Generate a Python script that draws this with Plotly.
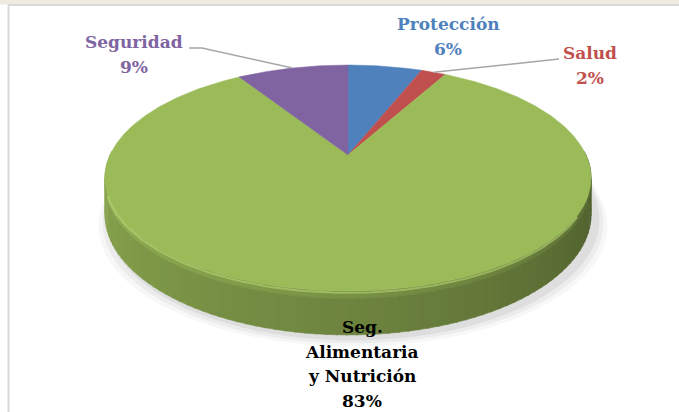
import numpy as np
import plotly.graph_objects as go

# ---- data ----
categories = ["Protección", "Salud", "Seg. Alimentaria y Nutrición", "Seguridad"]
label_lines = [["Protección"], ["Salud"], ["Seg.", "Alimentaria", "y Nutrición"], ["Seguridad"]]
values = [6, 2, 83, 9]
pct_labels = ["6%", "2%", "83%", "9%"]
colors = ["#4F81BD", "#C0504D", "#9BBB59", "#8064A2"]
text_colors = ["#4F81BD", "#C0504D", "#000000", "#8064A2"]

# ---- geometry (style) ----
W, H = 679, 412
CX, CY, SX, SY, K, T0 = 348, 155, 238, 108.3, 0.2035, 35
FONT = "DejaVu Serif"
FS = 17


def proj(theta_deg, drop=0.0):
    th = np.radians(theta_deg)
    u = np.sin(th)
    v = -np.cos(th)
    d = 1 - K * v
    return CX + SX * u / d, CY + SY * v / d + drop / d


def hex_rgb(h):
    h = h.lstrip("#")
    return tuple(int(h[i:i + 2], 16) for i in (0, 2, 4))


def shade(h, f):
    r, g, b = hex_rgb(h)
    return "rgb(%d,%d,%d)" % tuple(max(0, min(255, int(c * f))) for c in (r, g, b))


total = float(sum(values))
bounds = np.concatenate([[0], np.cumsum(values)]) / total * 360.0


def slice_of(theta):
    t = theta % 360
    for i in range(len(values)):
        if bounds[i] <= t < bounds[i + 1]:
            return i
    return len(values) - 1


fig = go.Figure()

# shadow
for grow, op in [(14, 0.04), (9, 0.06), (4, 0.08)]:
    th = np.linspace(90, 270, 120)
    xs, ys = proj(th, T0)
    xs2 = CX + (xs - CX) * (1 + grow / 300.0) + 5
    ys2 = ys + grow * 0.6 + 3
    xt, yt = proj(th[::-1], T0 - 20)
    fig.add_trace(go.Scatter(x=np.concatenate([xs2, xt]), y=np.concatenate([ys2, yt]),
                             fill="toself", mode="none",
                             fillcolor="rgba(60,60,60,%.2f)" % op, hoverinfo="skip", showlegend=False))

# side strips
step = 2.0
for a in np.arange(88, 272, step):
    b = a + step + 0.4
    mid = a + step / 2
    base = colors[slice_of(mid)]
    # shading: dark at right (90), light at left (270)
    s = min(1.0, max(0.0, (mid - 90) / 180.0))
    f = 0.45 + 0.45 * s ** 0.8
    for d0, d1, fb in [(0, 6, 1.10), (6, T0, 1.0)]:
        x1, y1 = proj(np.array([a, b]), d0)
        x2, y2 = proj(np.array([b, a]), d1)
        col = shade(base, f * fb)
        fig.add_trace(go.Scatter(x=np.concatenate([x1, x2]), y=np.concatenate([y1, y2]),
                                 fill="toself", mode="lines", line=dict(color=col, width=0.6),
                                 fillcolor=col, hoverinfo="skip", showlegend=False))

# top face slices
for i in range(len(values)):
    th = np.linspace(bounds[i], bounds[i + 1], max(3, int(bounds[i + 1] - bounds[i]) * 2))
    xs, ys = proj(th)
    fig.add_trace(go.Scatter(x=np.concatenate([[CX], xs, [CX]]), y=np.concatenate([[CY], ys, [CY]]),
                             fill="toself", mode="lines", line=dict(color=colors[i], width=0.5),
                             fillcolor=colors[i], name=categories[i], hoverinfo="skip", showlegend=False))

# rim highlight (front)
th = np.linspace(120, 250, 100)
xs, ys = proj(th, 1.5)
fig.add_trace(go.Scatter(x=xs, y=ys, mode="lines", line=dict(color="rgba(190,220,120,0.55)", width=2),
                         hoverinfo="skip", showlegend=False))

# leader lines (Salud, Seguridad)
mid_angles = [(bounds[i] + bounds[i + 1]) / 2 for i in range(len(values))]
sx_, sy_ = proj(mid_angles[1])
fig.add_trace(go.Scatter(x=[sx_, 553, 559], y=[sy_, 59, 59], mode="lines",
                         line=dict(color="#A6A6A6", width=1.5), hoverinfo="skip", showlegend=False))
gx_, gy_ = proj(mid_angles[3])
fig.add_trace(go.Scatter(x=[gx_, 202, 189], y=[gy_, 48, 48], mode="lines",
                         line=dict(color="#A6A6A6", width=1.5), hoverinfo="skip", showlegend=False))

# labels
label_pos = [(448, 24), (590, 53), (362, 327), (134, 42)]
line_gap = [25, 25, 24.5, 25]
annotations = []
for i in range(len(values)):
    lines = label_lines[i] + [pct_labels[i]]
    x0, y0 = label_pos[i]
    for j, txt in enumerate(lines):
        annotations.append(dict(x=x0, y=y0 + line_gap[i] * j, xref="x", yref="y", text="<b>%s</b>" % txt,
                                showarrow=False, xanchor="center", yanchor="middle",
                                font=dict(family=FONT, size=FS, color=text_colors[i])))

shapes = [
    dict(type="rect", xref="x", yref="y", x0=0, x1=W, y0=0, y1=4.5, fillcolor="#EEECE1",
         line=dict(width=0), layer="below"),
    dict(type="line", xref="x", yref="y", x0=8, x1=W, y0=5, y1=5, line=dict(color="#D9D9D9", width=2),
         layer="below"),
    dict(type="line", xref="x", yref="y", x0=8.5, x1=8.5, y0=5, y1=H, line=dict(color="#D9D9D9", width=2),
         layer="below"),
]

fig.update_layout(
    width=W, height=H, margin=dict(l=0, r=0, t=0, b=0),
    paper_bgcolor="white", plot_bgcolor="white",
    xaxis=dict(range=[0, W], visible=False, fixedrange=True),
    yaxis=dict(range=[H, 0], visible=False, fixedrange=True),
    annotations=annotations, shapes=shapes, showlegend=False,
)

fig.write_html("out.html", config={"displayModeBar": False},
               post_script="document.body.style.margin='0';document.body.style.overflow='hidden';")
